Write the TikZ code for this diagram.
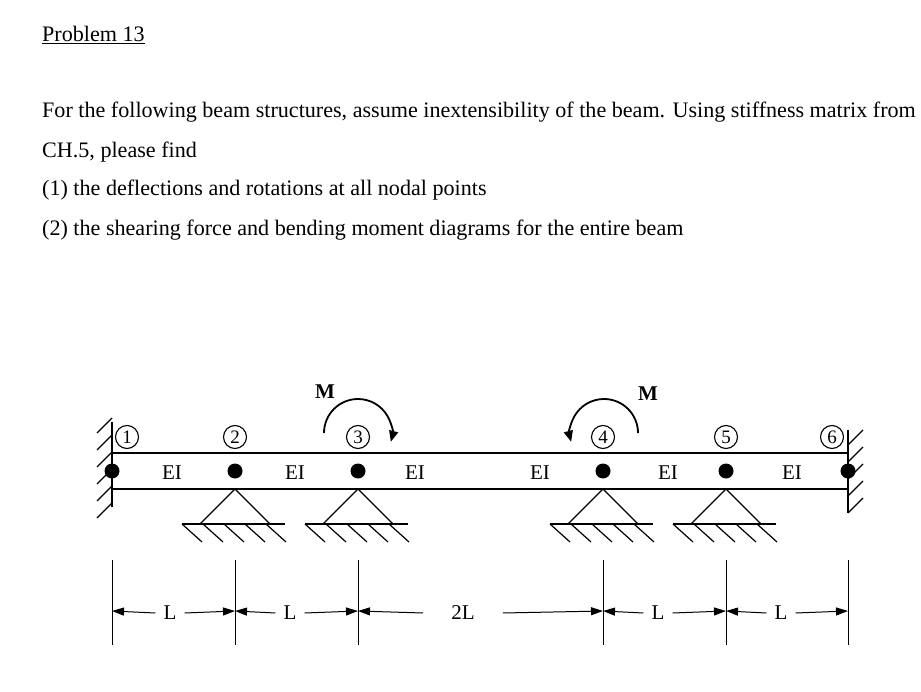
\documentclass[tikz,border=0pt]{standalone}
\usepackage{fontspec}
\setmainfont{Liberation Serif}
\usetikzlibrary{arrows.meta}
\begin{document}
\begin{tikzpicture}[x=1pt,y=-1pt,
  txt/.style={anchor=base west,inner sep=0pt,font=\fontsize{22.1}{26}\selectfont},
  lbl/.style={inner sep=0pt,font=\fontsize{21}{24}\selectfont},
  num/.style={circle,draw,line width=1.1pt,inner sep=0pt,minimum size=23pt,font=\fontsize{19}{20}\selectfont},
  dot/.style={circle,fill=black,minimum size=15pt,inner sep=0pt},
  ln/.style={line width=1.2pt},
  dim/.style={line width=1pt,-{Triangle[length=12pt,width=8pt]}},
  mom/.style={line width=1.8pt,-{Triangle[length=11pt,width=9pt]}}]
\useasboundingbox (0,0) rectangle (921,692);
\node[txt] (t0) at (42,42) {\underline{Problem 13}};
\node[txt] (t1) at (42,118) {For the following beam structures, assume inextensibility of the beam. Using stiffness matrix from};
\node[txt] (t2) at (42,158) {CH.5, please find};
\node[txt] (t3) at (42,196) {(1) the deflections and rotations at all nodal points};
\node[txt] (t4) at (42,236) {(2) the shearing force and bending moment diagrams for the entire beam};
% beam
\draw[ln] (112,453) -- (848,453) (112,489) -- (848,489);
% walls
\draw[ln] (112,422) -- (112,507);
\foreach \y in {428,445,462,479,496,513} \draw[ln] (112,\y-10) -- (97,\y+5);
\draw[ln] (848,430) -- (848,513);
\foreach \y in {430,447,464,481,498} \draw[ln] (848,\y+15) -- (863,\y);
% supports
\foreach \x in {235,358,603,726}{
  \draw[ln] (\x-35,524) -- (\x,489) -- (\x+35,524);
  \draw[ln] (\x-53,524) -- (\x+50,524);
  \foreach \h in {-53,-32,-11,10,31} \draw[ln] (\x+\h,524) -- (\x+\h+20,542);
}
% dots
\foreach \x/\n in {112/a,235/b,358/c,603/d,726/e,848/f} \node[dot] (d\n) at (\x,471) {};
% numbers
\node[num] (n1) at (127,437) {1};
\node[num] (n2) at (235,437) {2};
\node[num] (n3) at (358,437) {3};
\node[num] (n4) at (603,437) {4};
\node[num] (n5) at (726,437) {5};
\node[num] (n6) at (832,437) {6};
% EI
\foreach \x in {172,295,415,540,668,792} \node[lbl] at (\x,473) {EI};
% moments
\draw[mom] (324,433) arc[start angle=180,end angle=-15,x radius=34,y radius=-34];
\node[lbl,font=\bfseries\fontsize{21}{24}\selectfont] (m1) at (325,392) {M};
\draw[mom] (638,433) arc[start angle=0,end angle=195,x radius=34,y radius=-34];
\node[lbl,font=\bfseries\fontsize{21}{24}\selectfont] (m2) at (648,394) {M};
% dimensions
\foreach \x in {112,235,358,603,726,848} \draw[line width=1pt] (\x,560) -- (\x,645);
\node[lbl] (L1) at (170,613) {L};
\node[lbl] (L2) at (290,613) {L};
\node[lbl] (L3) at (463,613) {2L};
\node[lbl] (L4) at (658,613) {L};
\node[lbl] (L5) at (781,613) {L};
\draw[dim] (L1.west)++(-8,0) -- (112,611);
\draw[dim] (L1.east)++(8,0) -- (235,611);
\draw[dim] (L2.west)++(-8,0) -- (235,611);
\draw[dim] (L2.east)++(8,0) -- (358,611);
\draw[dim] (L3.west)++(-28,0) -- (358,611);
\draw[dim] (L3.east)++(28,0) -- (603,611);
\draw[dim] (L4.west)++(-8,0) -- (603,611);
\draw[dim] (L4.east)++(8,0) -- (726,611);
\draw[dim] (L5.west)++(-8,0) -- (726,611);
\draw[dim] (L5.east)++(8,0) -- (848,611);
\end{tikzpicture}
\end{document}
